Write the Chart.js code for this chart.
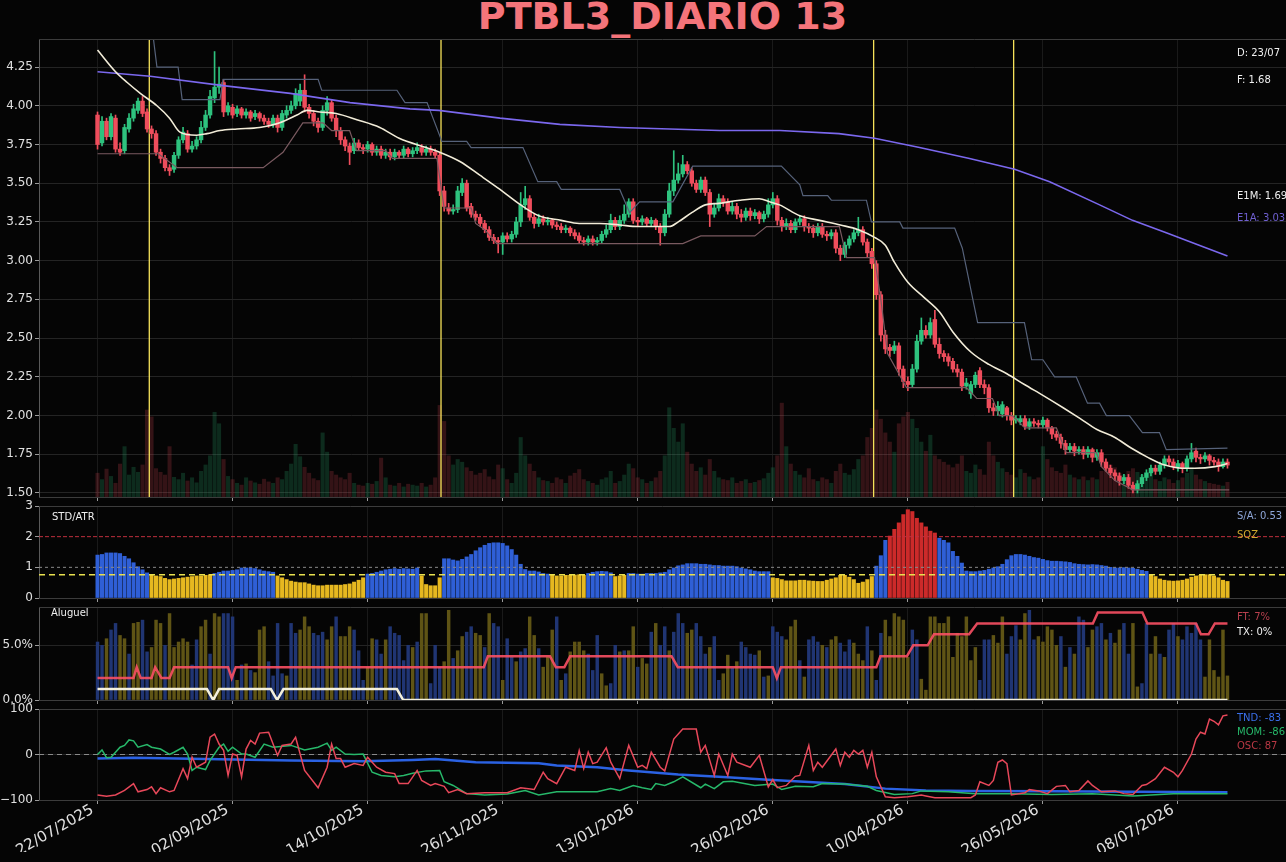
<!DOCTYPE html>
<html>
<head>
<meta charset="utf-8">
<script src="https://cdn.jsdelivr.net/npm/chart.js@4.4.1/dist/chart.umd.min.js"></script>
<style>
html, body { margin: 0; padding: 0; background: #050505; }
#wrap { position: relative; width: 1286px; height: 862px; overflow: hidden; background: #050505; }
#titulo { position: absolute; left: 39px; top: -3px; width: 1247px; text-align: center;
  font: bold 38px 'DejaVu Sans'; line-height: 38px; color: #f4747a; }
canvas { position: absolute; left: 0; }
</style>
</head>
<body>
<div id="wrap">
  <div id="titulo">PTBL3_DIARIO 13</div>
  <canvas id="cMain" width="1286" height="510" style="top:0px"></canvas>
  <canvas id="cStd" width="1286" height="112" style="top:496px"></canvas>
  <canvas id="cAlug" width="1286" height="113" style="top:597px"></canvas>
  <canvas id="cOsc" width="1286" height="164" style="top:698px"></canvas>
</div>
<script>
// eixo x: um ponto por pregão, rótulo a cada 30 pregões
const tickLabels = ['22/07/2025', '02/09/2025', '14/10/2025', '26/11/2025', '13/01/2026',
  '26/02/2026', '10/04/2026', '26/05/2026', '08/07/2026'];
const tickStep = 30;

const openP = [
  3.94,3.76,3.90,3.80,3.92,3.72,3.71,3.85,3.92,3.97,
  4.03,3.96,3.85,3.82,3.70,3.66,3.60,3.59,3.68,3.78,
  3.82,3.72,3.74,3.78,3.86,3.94,4.05,4.12,4.15,3.96,
  3.99,3.95,3.98,3.94,3.96,3.93,3.95,3.92,3.90,3.88,
  3.92,3.86,3.94,3.97,4.00,4.03,4.10,3.99,3.95,3.90,
  3.86,3.97,4.02,3.92,3.84,3.78,3.74,3.71,3.76,3.73,
  3.72,3.75,3.70,3.72,3.68,3.70,3.67,3.70,3.68,3.72,
  3.69,3.71,3.73,3.70,3.72,3.70,3.68,3.45,3.34,3.32,
  3.33,3.44,3.50,3.35,3.30,3.28,3.24,3.20,3.15,3.13,
  3.12,3.16,3.14,3.17,3.25,3.36,3.40,3.28,3.24,3.27,
  3.25,3.26,3.23,3.22,3.20,3.21,3.18,3.16,3.13,3.12,
  3.14,3.12,3.13,3.17,3.20,3.26,3.22,3.26,3.30,3.38,
  3.26,3.25,3.27,3.24,3.26,3.22,3.18,3.30,3.45,3.52,
  3.56,3.62,3.58,3.50,3.46,3.52,3.44,3.30,3.34,3.40,
  3.38,3.32,3.35,3.30,3.28,3.32,3.29,3.31,3.27,3.30,
  3.36,3.40,3.26,3.22,3.24,3.20,3.25,3.27,3.22,3.21,
  3.18,3.22,3.17,3.16,3.18,3.08,3.04,3.10,3.14,3.18,
  3.20,3.12,3.06,2.98,2.78,2.52,2.44,2.42,2.45,2.30,
  2.22,2.20,2.30,2.48,2.55,2.52,2.62,2.46,2.40,2.38,
  2.35,2.30,2.28,2.19,2.14,2.20,2.29,2.20,2.18,2.05,
  2.03,2.01,2.05,2.00,1.97,1.96,1.98,1.93,1.96,1.95,
  1.94,1.97,1.92,1.88,1.86,1.82,1.78,1.80,1.77,1.78,
  1.75,1.78,1.73,1.76,1.70,1.66,1.63,1.61,1.58,1.60,
  1.55,1.52,1.56,1.60,1.63,1.66,1.64,1.68,1.72,1.70,
  1.67,1.69,1.66,1.72,1.77,1.73,1.72,1.74,1.71,1.70,1.67,1.70
];
const highP = [
  3.96,3.93,3.92,3.95,3.94,3.76,3.88,3.95,4.01,4.05,
  4.06,3.98,3.87,3.84,3.72,3.68,3.62,3.70,3.80,3.86,
  3.84,3.77,3.80,3.90,3.97,4.10,4.35,4.25,4.17,4.02,
  4.01,4.00,3.99,3.98,3.97,3.97,3.96,3.94,3.92,3.94,
  3.94,3.97,4.00,4.03,4.11,4.14,4.20,4.01,3.97,3.92,
  4.00,4.06,4.04,3.94,3.86,3.80,3.76,3.79,3.78,3.75,
  3.77,3.76,3.74,3.74,3.72,3.72,3.72,3.71,3.74,3.73,
  3.73,3.76,3.75,3.74,3.74,3.72,3.70,3.48,3.37,3.36,
  3.48,3.53,3.52,3.37,3.32,3.30,3.26,3.22,3.17,3.15,
  3.18,3.18,3.19,3.28,3.44,3.48,3.42,3.30,3.30,3.29,
  3.28,3.27,3.25,3.24,3.23,3.22,3.20,3.18,3.15,3.16,
  3.16,3.15,3.19,3.23,3.30,3.28,3.29,3.36,3.40,3.40,
  3.28,3.29,3.28,3.28,3.27,3.24,3.33,3.50,3.71,3.63,
  3.68,3.64,3.60,3.52,3.54,3.54,3.46,3.37,3.43,3.42,
  3.40,3.38,3.37,3.33,3.34,3.34,3.33,3.32,3.32,3.40,
  3.44,3.42,3.28,3.27,3.26,3.27,3.29,3.29,3.24,3.23,
  3.24,3.24,3.19,3.20,3.20,3.10,3.12,3.16,3.20,3.28,
  3.22,3.14,3.08,3.00,2.80,2.55,2.46,2.48,2.47,2.32,
  2.25,2.33,2.52,2.63,2.58,2.63,2.68,2.50,2.42,2.40,
  2.37,2.33,2.30,2.24,2.22,2.28,2.31,2.23,2.20,2.08,
  2.09,2.09,2.06,2.02,2.00,2.00,2.00,1.98,1.98,1.97,
  1.99,1.98,1.93,1.90,1.88,1.84,1.82,1.82,1.80,1.80,
  1.80,1.79,1.78,1.78,1.72,1.68,1.65,1.63,1.62,1.62,
  1.57,1.58,1.62,1.65,1.68,1.68,1.70,1.74,1.74,1.72,
  1.71,1.70,1.74,1.82,1.79,1.75,1.76,1.75,1.73,1.72,1.72,1.72
];
const lowP = [
  3.72,3.74,3.78,3.78,3.70,3.68,3.69,3.83,3.90,3.95,
  3.93,3.83,3.79,3.68,3.63,3.58,3.55,3.57,3.66,3.76,
  3.70,3.70,3.72,3.76,3.84,3.92,4.02,4.08,3.93,3.94,
  3.92,3.93,3.92,3.92,3.90,3.91,3.90,3.88,3.86,3.86,
  3.83,3.84,3.92,3.95,3.98,4.00,3.96,3.92,3.87,3.83,
  3.84,3.94,3.90,3.80,3.75,3.71,3.62,3.69,3.71,3.69,
  3.70,3.68,3.68,3.66,3.66,3.65,3.65,3.66,3.66,3.67,
  3.67,3.69,3.68,3.68,3.68,3.66,3.42,3.32,3.30,3.30,
  3.31,3.42,3.32,3.28,3.26,3.22,3.18,3.13,3.11,3.05,
  3.04,3.12,3.12,3.15,3.22,3.33,3.26,3.21,3.22,3.23,
  3.23,3.21,3.20,3.18,3.18,3.16,3.14,3.11,3.10,3.10,
  3.10,3.10,3.11,3.15,3.18,3.20,3.20,3.24,3.28,3.24,
  3.22,3.23,3.22,3.22,3.20,3.10,3.16,3.28,3.42,3.50,
  3.54,3.56,3.48,3.44,3.44,3.42,3.22,3.28,3.32,3.35,
  3.30,3.30,3.27,3.25,3.26,3.26,3.27,3.24,3.25,3.28,
  3.34,3.23,3.19,3.20,3.18,3.18,3.23,3.19,3.18,3.15,
  3.16,3.15,3.13,3.14,3.05,3.00,3.02,3.08,3.12,3.16,
  3.10,3.02,2.95,2.75,2.48,2.40,2.38,2.40,2.26,2.18,
  2.16,2.18,2.28,2.46,2.50,2.50,2.44,2.37,2.35,2.32,
  2.28,2.25,2.16,2.17,2.11,2.18,2.18,2.14,2.02,2.00,
  2.00,1.99,1.97,1.94,1.95,1.94,1.91,1.91,1.93,1.92,
  1.92,1.90,1.85,1.84,1.79,1.75,1.76,1.74,1.75,1.72,
  1.73,1.70,1.71,1.67,1.64,1.60,1.58,1.55,1.56,1.53,
  1.50,1.50,1.54,1.58,1.61,1.62,1.62,1.66,1.68,1.65,
  1.64,1.63,1.64,1.70,1.70,1.69,1.70,1.68,1.68,1.64,1.66,1.66
];
const closeP = [
  3.75,3.90,3.80,3.93,3.72,3.70,3.86,3.92,3.98,4.03,
  3.95,3.85,3.82,3.70,3.66,3.60,3.58,3.68,3.78,3.83,
  3.72,3.74,3.78,3.86,3.94,4.06,4.12,4.14,3.96,4.00,
  3.94,3.98,3.94,3.96,3.92,3.95,3.92,3.90,3.88,3.92,
  3.86,3.95,3.97,4.00,4.08,4.10,3.99,3.95,3.90,3.86,
  3.97,4.02,3.92,3.84,3.78,3.74,3.70,3.76,3.73,3.72,
  3.75,3.70,3.72,3.68,3.70,3.67,3.70,3.68,3.72,3.69,
  3.71,3.73,3.70,3.72,3.70,3.68,3.45,3.35,3.32,3.33,
  3.45,3.50,3.34,3.30,3.28,3.24,3.20,3.15,3.13,3.12,
  3.16,3.14,3.17,3.25,3.36,3.40,3.28,3.24,3.27,3.25,
  3.26,3.23,3.22,3.20,3.21,3.18,3.16,3.13,3.12,3.14,
  3.12,3.13,3.17,3.20,3.26,3.22,3.26,3.30,3.38,3.26,
  3.25,3.27,3.24,3.26,3.22,3.18,3.30,3.45,3.52,3.56,
  3.62,3.58,3.50,3.46,3.52,3.44,3.30,3.34,3.40,3.38,
  3.32,3.35,3.30,3.28,3.32,3.29,3.31,3.27,3.30,3.36,
  3.40,3.26,3.22,3.24,3.20,3.25,3.27,3.22,3.21,3.18,
  3.22,3.17,3.16,3.18,3.08,3.04,3.10,3.14,3.18,3.20,
  3.12,3.05,2.98,2.78,2.52,2.43,2.42,2.45,2.30,2.22,
  2.20,2.30,2.48,2.55,2.52,2.60,2.46,2.40,2.38,2.35,
  2.30,2.28,2.19,2.21,2.20,2.26,2.20,2.18,2.05,2.03,
  2.06,2.07,2.00,1.97,1.98,1.98,1.93,1.96,1.95,1.94,
  1.97,1.92,1.88,1.86,1.82,1.78,1.80,1.77,1.78,1.75,
  1.78,1.73,1.76,1.70,1.66,1.63,1.61,1.58,1.60,1.55,
  1.52,1.56,1.60,1.63,1.66,1.64,1.68,1.72,1.70,1.67,
  1.69,1.66,1.72,1.76,1.73,1.72,1.74,1.71,1.70,1.67,1.70,1.68
];
// volume em milhares de ações
const volume = [
  520,380,610,450,300,720,1100,480,650,540,
  700,1900,1750,620,540,480,1100,430,380,520,
  350,420,310,560,700,900,1850,1600,820,450,
  380,300,260,420,350,310,280,390,330,300,
  420,380,560,720,1150,880,650,520,400,360,
  1400,980,560,480,420,380,520,300,260,240,
  300,280,340,850,420,260,240,300,220,280,
  260,240,300,220,260,420,2000,1650,900,700,
  820,760,640,560,480,520,600,440,380,700,
  620,380,300,520,1300,900,720,560,420,360,
  340,300,420,380,300,460,520,600,380,340,
  300,260,380,420,560,300,340,480,720,620,
  420,380,300,340,420,560,900,1950,1500,1200,
  1600,980,720,560,640,480,820,560,420,380,
  360,420,300,340,380,300,320,360,400,520,
  640,900,2050,1100,720,560,480,420,620,380,
  340,420,380,300,560,720,520,480,600,820,
  900,1300,1500,1900,1700,1400,1200,980,1600,1750,
  1850,1700,1500,1200,1000,1350,900,820,760,700,
  640,720,900,560,520,700,600,480,1200,900,
  760,620,540,480,420,600,520,440,380,420,
  1100,820,640,560,520,700,480,420,380,440,
  360,420,380,560,620,700,640,520,480,560,
  620,540,480,420,520,380,340,420,380,300,
  360,420,520,640,480,380,340,300,280,260,240,320
];

// médias e canais (vértices: [pregão, preço])
const e1m = [[0,4.36],[4,4.22],[6.6,4.15],[9.5,4.08],[13.2,4.00],[16,3.92],[18.3,3.83],[22,3.81],
  [24.3,3.82],[27.2,3.84],[31,3.85],[36,3.86],[40.5,3.89],[44.3,3.94],[46.5,3.97],[49.4,3.96],
  [53,3.95],[57.6,3.91],[62.7,3.86],[67,3.79],[73,3.73],[76,3.70],[80.5,3.64],[85,3.55],
  [89.4,3.46],[94,3.36],[98,3.29],[103,3.26],[107,3.24],[111.6,3.24],[116,3.23],[120,3.22],
  [125,3.22],[127,3.22],[129,3.25],[132,3.31],[135,3.36],[138,3.37],[142.7,3.39],[147,3.40],
  [149.3,3.38],[151.5,3.36],[156,3.29],[160.4,3.26],[165,3.23],[169,3.20],[172.6,3.15],
  [175,3.10],[177,2.99],[180,2.86],[183.7,2.76],[187,2.67],[190,2.54],[194,2.41],[198,2.33],
  [202,2.27],[205.9,2.20],[210,2.13],[214.5,2.05],[218.3,1.98],[222,1.91],[225.9,1.86],
  [229.6,1.79],[233.3,1.73],[237.1,1.68],[240.9,1.66],[243.7,1.66],[248.2,1.67],[251,1.69]];
const e1a = [[0,4.22],[11.7,4.19],[27.9,4.13],[42.8,4.08],[56.1,4.02],[69.4,3.98],[75.8,3.97],
  [89.4,3.92],[102.7,3.88],[116,3.86],[138.2,3.84],[151.6,3.84],[164.7,3.82],[172.6,3.79],
  [182.6,3.73],[193.7,3.66],[203.7,3.59],[211.5,3.51],[222.6,3.36],[229.9,3.26],[237.4,3.18],
  [244.7,3.10],[251,3.03]];
const canalSup = [[11.7,4.60],[13.2,4.25],[17.9,4.25],[18.8,4.04],[27.2,4.04],[27.9,4.17],
  [49,4.17],[49.8,4.10],[66.5,4.10],[68.3,4.02],[73.2,4.02],[76.5,3.77],[82,3.77],[83,3.73],
  [94.5,3.73],[97.8,3.51],[102,3.51],[103,3.46],[116,3.46],[118.2,3.31],[120.4,3.38],
  [127.8,3.38],[132.2,3.61],[151.9,3.61],[156,3.49],[156.7,3.42],[162.2,3.42],[163,3.39],
  [170.8,3.39],[171.9,3.25],[178.2,3.25],[178.9,3.21],[190.4,3.21],[192.1,3.08],[195.5,2.60],
  [205.9,2.60],[207.5,2.36],[210,2.36],[212.6,2.25],[217.4,2.25],[219.9,2.08],[222.6,2.08],
  [224.1,2.00],[229.2,2.00],[232.1,1.89],[235.9,1.89],[237.4,1.78],[251,1.79]];
const canalInf = [[0,3.69],[13.5,3.69],[17.7,3.60],[36.8,3.60],[41.2,3.70],[45.6,3.89],
  [50.1,3.89],[52,3.84],[56,3.84],[57.5,3.71],[64,3.71],[65.5,3.66],[75.4,3.66],[77,3.34],
  [83,3.34],[84,3.24],[86,3.20],[88.7,3.11],[130,3.11],[134,3.16],[146,3.16],[148.6,3.22],
  [164.8,3.22],[166.4,3.02],[172.6,3.02],[174,2.75],[175.5,2.40],[179.7,2.18],[193,2.18],
  [195.3,2.11],[198.8,2.11],[200.3,2.00],[203.2,2.00],[206,1.92],[213,1.92],[215.2,1.76],
  [221.9,1.76],[223,1.67],[226,1.58],[230,1.52],[251.4,1.52]];
const eventos = [11.5, 76.3, 172.4, 203.5];

// painel STD/ATR
const stdAtr = [
  1.40,1.42,1.47,1.47,1.47,1.45,1.36,1.28,1.15,1.02,
  0.92,0.82,0.74,0.72,0.70,0.64,0.60,0.62,0.64,0.66,
  0.68,0.70,0.72,0.72,0.74,0.76,0.80,0.84,0.88,0.88,
  0.90,0.92,0.98,0.98,0.98,0.96,0.92,0.88,0.86,0.84,
  0.72,0.66,0.60,0.55,0.52,0.50,0.50,0.46,0.42,0.40,
  0.40,0.42,0.42,0.42,0.42,0.44,0.46,0.52,0.58,0.66,
  0.78,0.80,0.84,0.88,0.92,0.94,0.96,0.94,0.96,0.95,
  0.94,0.98,0.72,0.44,0.40,0.40,0.66,1.28,1.28,1.24,
  1.21,1.26,1.34,1.42,1.54,1.64,1.72,1.78,1.80,1.80,
  1.78,1.70,1.58,1.40,1.10,0.93,0.88,0.88,0.85,0.80,
  0.78,0.74,0.72,0.72,0.74,0.74,0.75,0.76,0.74,0.80,
  0.84,0.86,0.87,0.86,0.82,0.70,0.72,0.74,0.80,0.80,
  0.78,0.78,0.80,0.80,0.80,0.82,0.84,0.92,0.98,1.05,
  1.08,1.12,1.12,1.12,1.10,1.10,1.08,1.06,1.06,1.04,
  1.04,1.04,1.02,0.98,0.95,0.92,0.88,0.86,0.86,0.86,
  0.66,0.64,0.60,0.56,0.56,0.56,0.58,0.58,0.56,0.55,
  0.54,0.54,0.58,0.62,0.66,0.74,0.74,0.68,0.60,0.48,
  0.52,0.60,0.70,1.04,1.38,1.88,2.02,2.24,2.45,2.72,
  2.88,2.82,2.60,2.45,2.32,2.18,2.12,1.95,1.88,1.80,
  1.52,1.36,1.14,0.88,0.86,0.86,0.88,0.90,0.94,0.98,
  1.02,1.10,1.25,1.38,1.42,1.42,1.40,1.36,1.32,1.30,
  1.26,1.22,1.20,1.20,1.19,1.18,1.16,1.12,1.10,1.09,
  1.08,1.09,1.08,1.06,1.04,1.00,0.98,0.98,0.99,0.98,
  0.97,0.94,0.90,0.87,0.76,0.70,0.62,0.58,0.56,0.55,
  0.56,0.58,0.62,0.68,0.72,0.74,0.76,0.76,0.72,0.66,0.58,0.54
];
const sqzLevel = 0.76;
const stdRef = 1;
const stdAlto = 2;

// painel Aluguel (% e lado: 1 = doador, 0 = tomador)
const aluguel = [
  5.3,5.0,5.6,6.4,7.0,5.9,5.6,4.2,7.0,7.1,
  7.3,4.4,4.8,7.3,7.0,5.0,7.9,4.8,5.3,5.6,
  5.3,3.2,5.5,6.7,7.3,4.2,7.9,7.6,7.9,7.9,
  7.6,1.8,3.2,3.3,2.7,2.5,6.4,6.7,3.5,2.2,
  7.0,2.4,2.2,7.0,6.1,6.4,7.6,6.7,6.1,5.9,
  6.2,5.5,6.7,7.6,5.8,5.8,6.7,6.4,4.5,1.8,
  3.0,5.6,5.5,4.2,5.5,6.7,6.1,5.9,3.6,5.0,
  4.8,5.3,7.9,7.9,1.5,5.0,3.0,3.5,8.2,3.8,
  4.5,5.8,6.2,6.7,6.1,5.9,4.8,7.9,7.0,6.7,
  1.8,5.6,3.9,3.5,4.4,4.7,7.6,5.9,4.7,3.0,
  3.9,6.4,7.6,1.8,2.4,4.4,5.3,5.3,4.5,4.2,
  2.7,5.9,2.4,1.3,1.5,5.0,4.4,4.5,4.5,6.7,
  3.0,3.8,3.3,6.2,7.0,5.0,6.7,4.5,6.2,7.9,
  7.0,6.1,6.4,7.0,5.8,4.2,4.8,5.8,1.8,2.4,
  4.1,2.9,3.5,5.3,4.8,4.2,4.1,4.5,2.1,2.2,
  6.7,6.2,5.8,5.5,6.7,7.3,3.6,2.1,5.5,5.8,
  5.3,5.0,4.8,5.5,5.8,5.2,4.4,5.5,5.2,4.2,
  3.6,6.7,4.5,1.8,6.1,7.3,5.8,7.9,7.6,7.3,
  3.9,6.4,5.5,1.9,0.9,7.6,7.6,7.0,7.0,7.6,
  3.9,6.1,5.8,7.6,3.6,4.8,1.8,5.5,5.5,5.9,
  5.2,7.6,4.2,5.8,6.8,5.5,7.9,8.2,5.5,5.8,
  5.3,6.7,6.4,5.0,5.8,3.0,4.8,4.2,7.6,7.3,
  4.8,6.4,6.7,7.0,5.5,6.1,5.2,6.4,7.0,4.2,
  7.0,1.2,1.5,7.0,4.2,5.8,4.2,3.9,6.4,7.0,
  5.8,5.5,6.7,6.1,7.0,5.5,2.1,5.5,2.7,2.1,6.4,2.2
];
const aluguelLado = [
  0,0,1,0,0,1,1,0,1,1, 0,0,1,1,1,0,1,1,1,1, 1,0,0,1,1,0,1,1,0,0,
  0,1,0,1,0,1,1,1,0,0, 0,0,1,0,0,1,1,1,0,0, 0,1,1,0,1,1,1,0,0,0,
  1,1,0,0,1,0,0,0,0,0, 1,0,1,1,0,0,0,1,1,0, 1,1,0,0,1,1,0,1,0,0,
  1,0,0,1,0,0,1,1,0,1, 1,1,0,1,0,1,1,1,1,0, 0,0,1,1,0,0,1,0,1,1,
  0,1,1,0,1,0,0,1,0,0, 0,1,1,0,0,0,1,0,0,1, 1,0,1,0,0,0,0,1,0,1,
  0,0,0,1,1,1,0,1,0,0, 0,1,0,1,1,0,0,0,1,1, 1,0,1,0,0,1,1,1,1,1,
  1,0,0,1,1,1,1,1,1,1, 1,1,1,1,1,1,0,0,0,1, 1,1,0,0,0,1,1,0,0,1,
  1,1,1,1,0,1,0,1,0,0, 1,1,0,0,1,0,1,1,0,0, 1,1,0,0,1,1,0,1,0,0,
  1,0,0,0,0,0,1,1,1,1,1,1
];
const ftLinha = [[0,2],[8,2],[8.7,3],[9.6,2],[12,2],[12.8,3],[14.2,2],[16,2],[17,3],[29,3],
  [29.8,2],[30.7,3],[85.8,3],[86.7,4],[100.5,4],[101.8,3],[103.7,3],[105,4],[127.5,4],[128.9,3],
  [150,3],[150.9,2],[151.8,3],[173,3],[173.9,4],[179.8,4],[181.2,5],[184.4,5],[185.8,6],
  [193.6,6],[195.4,7],[221.1,7],[222.2,8],[232.1,8],[233.2,7],[244,7],[245.1,6],[246.8,6],
  [248.2,7],[251,7]];
const txLinha = [[0,1],[24.3,1],[25.7,0],[27,1],[38.5,1],[39.9,0],[41.3,1],[66.5,1],[67.9,0],[251,0]];

// painel osciladores
const tnd = [[0,-9],[8,-7],[24,-10],[43,-13],[59,-15],[70,-12],[75,-10],[84,-17],[98,-19],
  [102,-24],[111,-28],[118,-35],[129,-44],[138,-49],[148,-55],[157,-60],[166,-65],[175,-75],
  [184,-79],[194,-80],[212,-81],[230,-82],[251,-83]];
const mom = [[0,0],[1,10],[2,-7],[3,-6],[5,16],[6,20],[7,32],[8,30],[9,16],[11,22],[12,16],
  [14,12],[16,0],[17,5],[19,16],[20,1],[21,-35],[22,-28],[24,-33],[25,-13],[27,16],[28,23],
  [29,7],[30,16],[32,1],[33,1],[35,-6],[37,23],[39,16],[43,20],[46,10],[49,16],[51,25],[52,9],
  [53,16],[55,1],[57,0],[59,1],[61,-39],[63,-46],[66,-49],[68,-46],[70,-41],[73,-36],[76,-35],
  [77,-60],[79,-68],[82,-86],[86,-89],[91,-87],[95,-79],[98,-89],[102,-82],[111,-82],[114,-75],
  [116,-79],[119,-68],[121,-73],[123,-77],[124,-64],[126,-68],[128,-60],[130,-49],[134,-73],
  [135,-65],[137,-75],[139,-60],[141,-59],[146,-68],[150,-65],[152,-77],[155,-70],[159,-71],
  [161,-64],[166,-65],[171,-70],[173,-79],[177,-88],[181,-86],[183,-80],[189,-82],[195,-86],
  [203,-86],[212,-88],[221,-86],[230,-91],[239,-86],[251,-86]];
const osc = [[0,-89],[2,-92],[4,-89],[6,-79],[8,-64],[9,-82],[11,-77],[12,-71],[13,-86],[14,-73],
  [16,-82],[17,-79],[19,-31],[20,-53],[21,-6],[22,-28],[24,-17],[25,38],[26,45],[27,23],[28,9],
  [29,-46],[30,1],[31,-2],[32,-49],[33,12],[34,31],[35,23],[36,47],[38,49],[39,23],[40,-2],
  [41,20],[43,23],[44,38],[46,-35],[49,-73],[51,-28],[52,23],[53,-9],[54,-9],[55,-28],[57,-20],
  [59,-24],[60,-6],[61,-17],[62,-28],[64,-39],[66,-42],[67,-64],[69,-64],[71,-35],[72,-57],
  [74,-68],[75,-64],[77,-70],[78,-84],[80,-77],[82,-86],[86,-84],[91,-84],[94,-73],[97,-77],
  [99,-39],[100,-53],[102,-64],[104,-28],[106,-35],[107,9],[108,-31],[109,5],[110,-20],[111,-17],
  [113,15],[114,-17],[116,-53],[118,20],[120,-28],[121,-24],[122,-31],[123,5],[125,-28],[126,-36],
  [128,34],[130,56],[133,56],[134,5],[135,20],[137,-46],[138,1],[140,-46],[141,1],[142,-17],
  [145,-28],[147,-2],[149,-71],[150,-55],[151,-73],[153,-68],[155,-48],[156,-46],[158,20],
  [159,-35],[160,-17],[161,-28],[164,12],[165,-24],[166,5],[167,-6],[168,9],[169,1],[170,9],
  [171,-28],[172,5],[173,-49],[175,-93],[177,-95],[180,-93],[183,-89],[184,-91],[186,-95],
  [194,-95],[195,-89],[196,-60],[198,-68],[199,-57],[200,-17],[201,-12],[202,-20],[203,-89],
  [206,-84],[207,-77],[209,-80],[211,-86],[213,-70],[215,-68],[216,-82],[218,-79],[220,-58],
  [221,-68],[223,-82],[226,-80],[228,-86],[230,-88],[232,-68],[233,-66],[235,-53],[237,-28],
  [239,-39],[240,-49],[241,-35],[243,1],[244,34],[245,49],[246,45],[247,78],[248,73],[249,65],
  [250,85],[251,87]];

const mainTicks = [1.5, 1.75, 2.0, 2.25, 2.5, 2.75, 3.0, 3.25, 3.5, 3.75, 4.0, 4.25];
const stdTicks = [0, 1, 2, 3];
const alugTicks = [0, 5];
const oscTicks = [-100, 0, 100];

// ---------------------------------------------------------------
const X_MIN = -13, X_MAX = 264;
const FONT = 'DejaVu Sans';
const GREEN = '#2ec27e', RED = '#ef4d5c';
const pts = arr => arr.map(p => ({ x: p[0], y: p[1] }));
const hline = v => [{ x: X_MIN, y: v }, { x: X_MAX, y: v }];

Chart.defaults.font.family = FONT;
Chart.defaults.animation = false;
Chart.defaults.plugins.legend.display = false;
Chart.defaults.plugins.tooltip.enabled = false;

function xScale(showLabels) {
  return {
    type: 'linear', min: X_MIN, max: X_MAX, offset: false,
    afterBuildTicks: s => { s.ticks = tickLabels.map((t, k) => ({ value: k * tickStep })); },
    afterFit: s => { if (showLabels) s.height = 52; },
    grid: { color: '#1a1a1a', offset: false, drawTicks: true, tickLength: 4, tickColor: '#9a9a9a' },
    border: { display: false },
    ticks: {
      display: showLabels, autoSkip: false, minRotation: 30, maxRotation: 30, padding: -3,
      labelOffset: -5, color: '#e0e0e0', font: { size: 15 },
      callback: v => tickLabels[Math.round(v / tickStep)] || ''
    }
  };
}
function yScale(min, max, ticks, fmt, gridOn) {
  return {
    min: min, max: max,
    afterBuildTicks: s => { s.ticks = ticks.map(v => ({ value: v })); },
    afterFit: s => { s.width = 39; },
    grid: { display: true, color: gridOn ? '#242424' : 'rgba(0,0,0,0)', tickLength: 4, tickColor: '#9a9a9a' },
    border: { display: true, color: '#5a5a5a' },
    ticks: { color: '#e0e0e0', font: { size: 12 }, padding: 2, callback: fmt }
  };
}

// textos dos painéis + molduras superior/inferior
const painel = {
  id: 'painel',
  afterDraw(chart, args, opts) {
    const ctx = chart.ctx, a = chart.chartArea;
    ctx.save();
    ctx.strokeStyle = '#3c3c3c'; ctx.lineWidth = 1;
    ctx.beginPath();
    ctx.moveTo(a.left, a.top + 0.5); ctx.lineTo(a.right, a.top + 0.5);
    ctx.moveTo(a.left, a.bottom + 0.5); ctx.lineTo(a.right, a.bottom + 0.5);
    ctx.stroke();
    ctx.font = '10px "' + FONT + '"';
    ctx.textBaseline = 'middle'; ctx.textAlign = 'left';
    (opts.textos || []).forEach(t => {
      ctx.fillStyle = t[3];
      ctx.fillText(t[0], t[1], t[2] - opts.top);
    });
    ctx.restore();
  }
};

// ---- painel principal
const Y0 = 1.474, Y1 = 4.431;
const linhasEvento = [];
eventos.forEach(e => { linhasEvento.push({ x: e, y: Y0 }, { x: e, y: Y1 }, { x: e, y: null }); });

new Chart(document.getElementById('cMain'), {
  type: 'bar',
  data: {
    datasets: [
      { type: 'line', data: pts(e1m), borderColor: '#f2ecd8', borderWidth: 1.6, pointRadius: 0, cubicInterpolationMode: 'monotone', order: 0 },
      { type: 'line', data: pts(e1a), borderColor: '#7b68ee', borderWidth: 1.6, pointRadius: 0, order: 0 },
      { type: 'line', data: pts(canalSup), borderColor: '#56627a', borderWidth: 1.2, pointRadius: 0, order: 1 },
      { type: 'line', data: pts(canalInf), borderColor: '#7a5a60', borderWidth: 1.2, pointRadius: 0, order: 1 },
      { type: 'bar', data: closeP.map((c, i) => ({ x: i, y: [openP[i], c] })), grouped: false,
        barThickness: 3.8, minBarLength: 1, order: 2,
        backgroundColor: ctx => closeP[ctx.dataIndex] >= openP[ctx.dataIndex] ? GREEN : RED },
      { type: 'bar', data: closeP.map((c, i) => ({ x: i, y: [lowP[i], highP[i]] })), grouped: false,
        barThickness: 1, order: 3,
        backgroundColor: ctx => closeP[ctx.dataIndex] >= openP[ctx.dataIndex] ? GREEN : RED },
      { type: 'line', data: linhasEvento, borderColor: '#f6e25a', borderWidth: 1.3, pointRadius: 0, spanGaps: false, order: 4 },
      { type: 'bar', yAxisID: 'yv', data: volume.map((v, i) => ({ x: i, y: v })), grouped: false,
        barThickness: 3.4, order: 5,
        backgroundColor: ctx => closeP[ctx.dataIndex] >= openP[ctx.dataIndex] ? 'rgba(46,194,126,0.2)' : 'rgba(239,77,92,0.2)' }
    ]
  },
  options: {
    responsive: false,
    layout: { padding: { top: 39, bottom: 9, left: 0, right: 0 } },
    scales: {
      x: xScale(false),
      y: yScale(Y0, Y1, mainTicks, v => v.toFixed(2), true),
      yv: { display: false, min: 0, max: 10000 }
    },
    plugins: { painel: { top: 0, textos: [
      ['D: 23/07', 1237, 53, '#f0f0f0'], ['F: 1.68', 1237, 80, '#f0f0f0'],
      ['E1M: 1.69', 1237, 196, '#f0f0f0'], ['E1A: 3.03', 1237, 218, '#6f5fd0']] } }
  },
  plugins: [painel]
});

// ---- STD/ATR
const corStd = v => v >= stdAlto ? '#cc2a2a' : (v <= sqzLevel ? '#e6b820' : '#2f5fd6');
new Chart(document.getElementById('cStd'), {
  type: 'bar',
  data: {
    datasets: [
      { type: 'line', data: hline(sqzLevel), borderColor: '#e8e050', borderWidth: 1.5, borderDash: [6, 4], pointRadius: 0, order: 0 },
      { type: 'line', data: hline(stdRef), borderColor: '#8a8a8a', borderWidth: 1, borderDash: [3, 3], pointRadius: 0, order: 0 },
      { type: 'line', data: hline(stdAlto), borderColor: '#c0303e', borderWidth: 1, borderDash: [4, 2], pointRadius: 0, order: 0 },
      { type: 'bar', data: stdAtr.map((v, i) => ({ x: i, y: v })), grouped: false, barThickness: 3.4, order: 1,
        backgroundColor: ctx => corStd(stdAtr[ctx.dataIndex]) }
    ]
  },
  options: {
    responsive: false,
    layout: { padding: { top: 10, bottom: 6, left: 0, right: 0 } },
    scales: { x: xScale(false), y: yScale(0, 3, stdTicks, v => String(v), false) },
    plugins: { painel: { top: 496, textos: [
      ['STD/ATR', 52, 517, '#f0f0f0'], ['S/A: 0.53', 1237, 516, '#8ea6d8'], ['SQZ', 1237, 535, '#d0a830']] } }
  },
  plugins: [painel]
});

// ---- Aluguel
new Chart(document.getElementById('cAlug'), {
  type: 'bar',
  data: {
    datasets: [
      { type: 'line', data: pts(ftLinha), borderColor: 'rgba(250,80,100,0.9)', borderWidth: 2.5, pointRadius: 0, order: 0 },
      { type: 'line', data: pts(txLinha), borderColor: '#f4f0dc', borderWidth: 2.5, pointRadius: 0, order: 0 },
      { type: 'bar', data: aluguel.map((v, i) => ({ x: i, y: v })), grouped: false, barThickness: 2.8, order: 1,
        backgroundColor: ctx => aluguelLado[ctx.dataIndex] ? '#5f5415' : '#203573' }
    ]
  },
  options: {
    responsive: false,
    layout: { padding: { top: 10, bottom: 6, left: 0, right: 0 } },
    scales: { x: xScale(false), y: yScale(0, 8.5, alugTicks, v => v.toFixed(1) + '%', true) },
    plugins: { painel: { top: 597, textos: [
      ['Aluguel', 51, 613, '#f0f0f0'], ['FT: 7%', 1237, 617, '#b8404e'], ['TX: 0%', 1237, 632, '#f0f0f0']] } }
  },
  plugins: [painel]
});

// ---- Osciladores
new Chart(document.getElementById('cOsc'), {
  type: 'line',
  data: {
    datasets: [
      { data: pts(osc), borderColor: '#e8485a', borderWidth: 1.5, pointRadius: 0, order: 0 },
      { data: pts(mom), borderColor: '#27b86a', borderWidth: 1.5, pointRadius: 0, order: 1 },
      { data: pts(tnd), borderColor: '#2b62e3', borderWidth: 2.5, pointRadius: 0, order: 2 },
      { data: hline(0), borderColor: '#8a8a8a', borderWidth: 1, borderDash: [5, 4], pointRadius: 0, order: 3 }
    ]
  },
  options: {
    responsive: false,
    layout: { padding: { top: 11, bottom: 10, left: 0, right: 0 } },
    scales: { x: xScale(true), y: yScale(-100, 100, oscTicks, v => String(v).replace('-', '\u2212'), true) },
    plugins: { painel: { top: 698, textos: [
      ['TND: -83', 1237, 718, '#3a6fe8'], ['MOM: -86', 1237, 732, '#27b86a'], ['OSC: 87', 1237, 746, '#b83844']] } }
  },
  plugins: [painel]
});
</script>
</body>
</html>
